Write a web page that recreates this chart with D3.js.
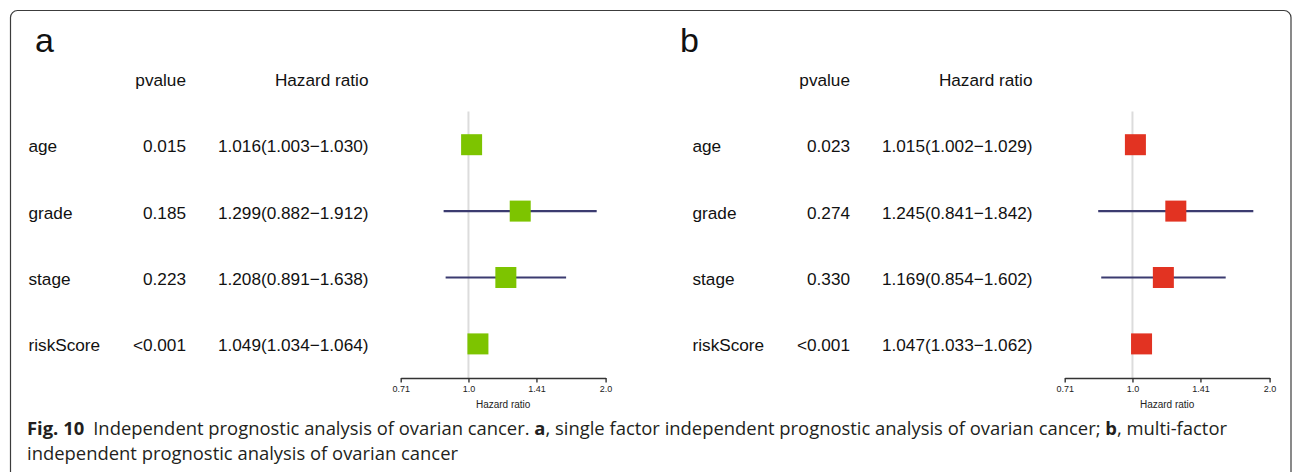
<!DOCTYPE html>
<html>
<head>
<meta charset="utf-8">
<script src="https://cdn.jsdelivr.net/npm/d3@7"></script>
<style>
  html, body { margin: 0; padding: 0; background: #fff; }
  svg { display: block; }
</style>
</head>
<body>
<svg id="fig" width="1292" height="472"></svg>
<script>
// Covariates shown in both forest plots
const variables = ["age", "grade", "stage", "riskScore"];

// a: univariate Cox regression
const pvalA = ["0.015", "0.185", "0.223", "<0.001"];
const hrA   = [1.016, 1.299, 1.208, 1.049];
const lowA  = [1.003, 0.882, 0.891, 1.034];
const highA = [1.030, 1.912, 1.638, 1.064];

// b: multivariate Cox regression
const pvalB = ["0.023", "0.274", "0.330", "<0.001"];
const hrB   = [1.015, 1.245, 1.169, 1.047];
const lowB  = [1.002, 0.841, 0.854, 1.033];
const highB = [1.029, 1.842, 1.602, 1.062];

// Hazard-ratio axis ticks (log2 spaced)
const tickValues = [0.71, 1.0, 1.41, 2.0];
const tickLabels = ["0.71", "1.0", "1.41", "2.0"];

const svg = d3.select("#fig");
const FONT = "'Liberation Sans', Arial, Helvetica, sans-serif";
const TABLE_FS = 17.2;

// frame around the figure
svg.append("rect")
  .attr("x", 10.5).attr("y", 10.5)
  .attr("width", 1280.5).attr("height", 470)
  .attr("rx", 7).attr("ry", 7)
  .attr("fill", "none").attr("stroke", "#3c3c3c").attr("stroke-width", 1.2);

// row positions: -1 = header, 0..3 = covariates
const rowY = d3.scaleLinear().domain([0, 1]).range([144.7, 211.1]);

function drawPanel(opts) {
  const g = svg.append("g").attr("transform", `translate(${opts.dx},0)`);
  const x = d3.scaleLog().base(2).domain([tickValues[0], tickValues[tickValues.length - 1]]).range([400.7, 605.6]);

  const rows = variables.map((v, i) => ({
    name: v, p: opts.p[i], hr: opts.hr[i], lo: opts.lo[i], hi: opts.hi[i], i
  }));
  const fmt = d3.format(".3f");

  // panel letter
  svg.append("text")
    .attr("x", opts.letterX).attr("y", 51.7)
    .attr("font-family", FONT).attr("font-size", 34)
    .attr("fill", "#111").text(opts.letter);

  // headers
  const tStyle = sel => sel.attr("font-family", FONT).attr("font-size", TABLE_FS).attr("fill", "#111");
  g.append("text").call(tStyle).attr("x", 186).attr("y", rowY(-1) + 7.5)
    .attr("text-anchor", "end").text("pvalue");
  g.append("text").call(tStyle).attr("x", 368.5).attr("y", rowY(-1) + 7.5)
    .attr("text-anchor", "end").text("Hazard ratio");

  // table columns
  g.selectAll(".lab").data(rows).join("text").call(tStyle)
    .attr("x", 28.5).attr("y", d => rowY(d.i) + 7.5).text(d => d.name);
  g.selectAll(".pv").data(rows).join("text").call(tStyle)
    .attr("x", 186).attr("y", d => rowY(d.i) + 7.5).attr("text-anchor", "end").text(d => d.p);
  g.selectAll(".hrt").data(rows).join("text").call(tStyle)
    .attr("x", 368.5).attr("y", d => rowY(d.i) + 7.5).attr("text-anchor", "end")
    .text(d => `${fmt(d.hr)}(${fmt(d.lo)}\u2212${fmt(d.hi)})`);

  // reference line at HR = 1
  g.append("line")
    .attr("x1", x(1)).attr("x2", x(1))
    .attr("y1", rowY(-0.5)).attr("y2", 378)
    .attr("stroke", "#dcdcdc").attr("stroke-width", 2);

  // confidence intervals
  g.selectAll(".ci").data(rows).join("line")
    .attr("x1", d => x(d.lo)).attr("x2", d => x(d.hi))
    .attr("y1", d => rowY(d.i)).attr("y2", d => rowY(d.i))
    .attr("stroke", "#3b3b70").attr("stroke-width", 2.2);

  // point estimates
  const s = 21;
  g.selectAll(".box").data(rows).join("rect")
    .attr("x", d => x(d.hr) - s / 2).attr("y", d => rowY(d.i) - s / 2)
    .attr("width", s).attr("height", s)
    .attr("fill", opts.color);

  // x axis
  const axis = d3.axisBottom(x)
    .tickValues(tickValues)
    .tickFormat((d, i) => tickLabels[i])
    .tickSize(4.5).tickSizeOuter(0).tickPadding(3);
  const ax = g.append("g").attr("transform", "translate(0,378)").call(axis);
  ax.select(".domain").attr("stroke", "#333").attr("stroke-width", 1.4);
  ax.selectAll(".tick line").attr("stroke", "#333").attr("stroke-width", 1.4);
  ax.selectAll(".tick text").attr("font-family", FONT).attr("font-size", 9).attr("fill", "#222");

  g.append("text")
    .attr("x", (x.range()[0] + x.range()[1]) / 2).attr("y", 407.5)
    .attr("text-anchor", "middle")
    .attr("font-family", FONT).attr("font-size", 10).attr("fill", "#222")
    .text("Hazard ratio");
}

drawPanel({ dx: 0, letter: "a", letterX: 35, p: pvalA, hr: hrA, lo: lowA, hi: highA, color: "#7dc400" });
drawPanel({ dx: 664, letter: "b", letterX: 680, p: pvalB, hr: hrB, lo: lowB, hi: highB, color: "#e23322" });

// caption
const CAP = "'Open Sans', 'Noto Sans', sans-serif";
const cap = svg.append("g").attr("font-family", CAP).attr("fill", "#231f20");
const line1 = cap.append("text").attr("x", 27).attr("y", 434.5).attr("font-size", 16);
line1.append("tspan").attr("font-weight", "bold").text("Fig. 10");
line1.append("tspan").attr("dx", 9).text("Independent prognostic analysis of ovarian cancer. ");
line1.append("tspan").attr("font-weight", "bold").text("a");
line1.append("tspan").text(", single factor independent prognostic analysis of ovarian cancer; ");
line1.append("tspan").attr("font-weight", "bold").text("b");
line1.append("tspan").text(", multi-factor");
const line2 = cap.append("text").attr("x", 27).attr("y", 459.5).attr("font-size", 16)
  .text("independent prognostic analysis of ovarian cancer");

// size caption so the first line spans the frame width
const w1 = line1.node().getComputedTextLength();
const fs = 16 * 1192 / w1;
line1.attr("font-size", fs);
line2.attr("font-size", fs);
</script>
</body>
</html>
